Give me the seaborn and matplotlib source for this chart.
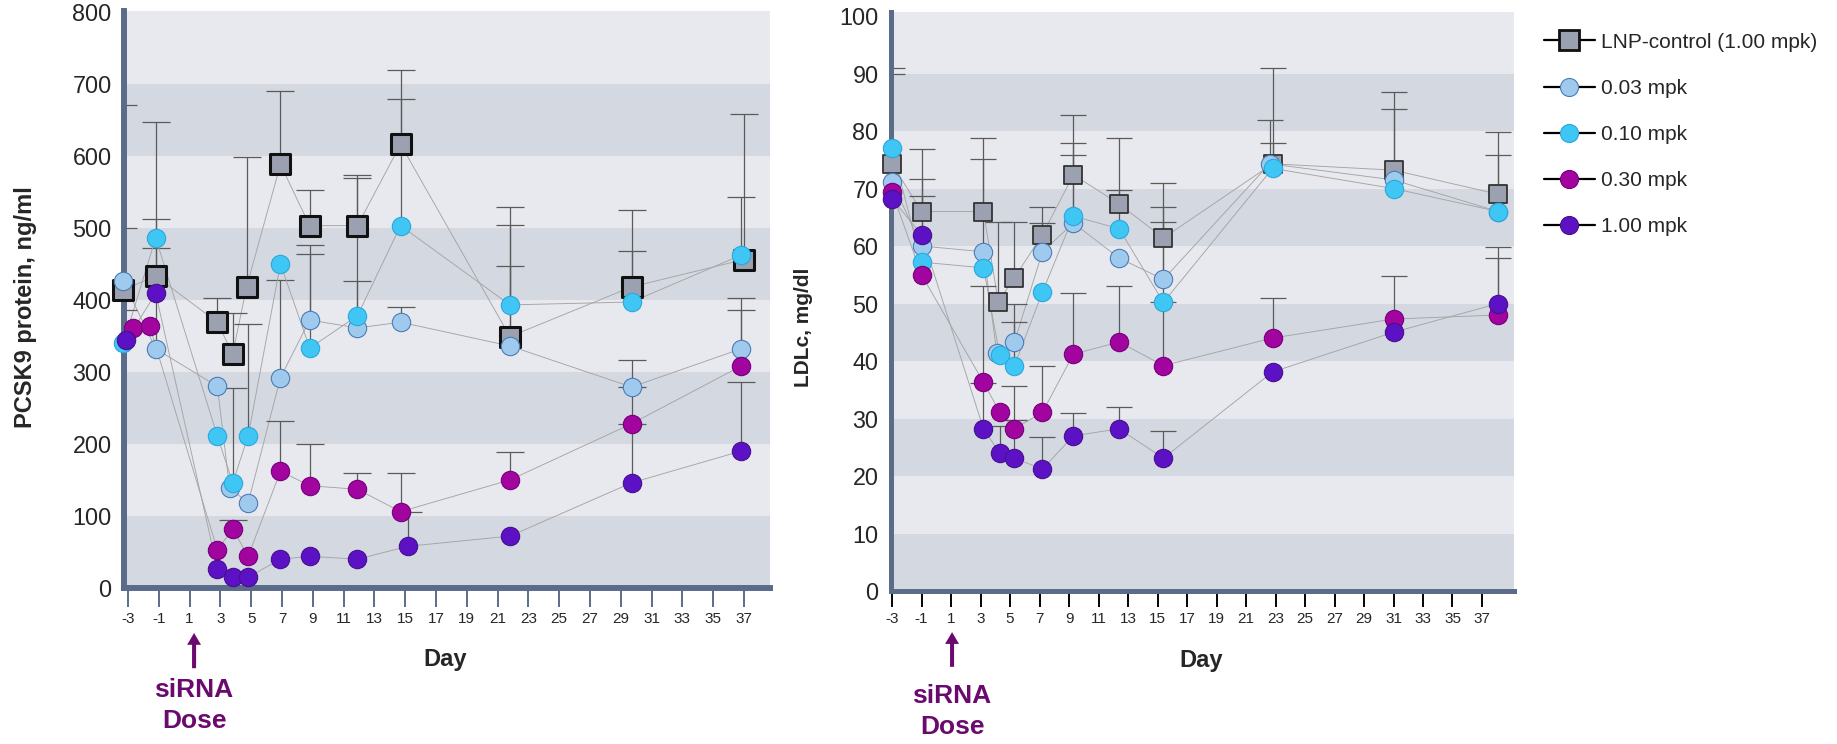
import numpy as np
import pandas as pd
import matplotlib
matplotlib.use('Agg')
import matplotlib.pyplot as plt
import seaborn as sns
from matplotlib.lines import Line2D

# --- datos ---
GROUPS = ['LNP-control (1.00 mpk)', '0.03 mpk', '0.10 mpk', '0.30 mpk', '1.00 mpk']

# PCSK9 (ng/ml), panel izquierdo
pcsk9_lnp_day = [-3.3, -1.2, 2.8, 3.8, 4.7, 6.9, 8.8, 11.9, 14.7, 21.8, 29.7, 37.0]
pcsk9_lnp_val = [414, 433, 369, 325, 418, 588, 503, 503, 616, 349, 418, 456]
pcsk9_lnp_err = [257, 214, 34, 57, 180, 102, 50, 70, 103, 180, 107, 202]

pcsk9_003_day = [-3.3, -1.2, 2.8, 3.6, 4.8, 6.9, 8.8, 11.9, 14.7, 21.8, 29.7, 36.8]
pcsk9_003_val = [426, 332, 280, 139, 118, 292, 372, 361, 369, 336, 279, 332]
pcsk9_003_err = [74, 140, 0, 0, 0, 135, 104, 65, 21, 111, 38, 71]

pcsk9_010_day = [-3.3, -1.2, 2.8, 3.8, 4.8, 6.9, 8.8, 11.9, 14.7, 21.8, 29.7, 36.8]
pcsk9_010_val = [340, 486, 211, 146, 211, 450, 333, 378, 503, 393, 397, 462]
pcsk9_010_err = [46, 26, 0, 132, 156, 0, 131, 191, 176, 111, 71, 81]

pcsk9_030_day = [-2.7, -1.6, 2.8, 3.8, 4.8, 6.9, 8.8, 11.9, 14.7, 21.8, 29.7, 36.8]
pcsk9_030_val = [361, 364, 53, 82, 44, 162, 142, 137, 106, 150, 228, 308]
pcsk9_030_err = [0, 0, 0, 12, 0, 70, 58, 23, 54, 39, 51, 78]

pcsk9_100_day = [-3.1, -1.2, 2.8, 3.8, 4.8, 6.9, 8.8, 11.9, 15.2, 21.8, 29.7, 36.8]
pcsk9_100_val = [344, 409, 27, 15, 15, 40, 44, 40, 58, 72, 146, 190]
pcsk9_100_err = [0, 0, 0, 0, 0, 0, 0, 0, 48, 0, 82, 96]

# LDLc (mg/dl), panel derecho
ldl_lnp_day = [-3.0, -1.0, 3.2, 4.2, 5.3, 7.2, 9.3, 12.4, 15.4, 22.8, 31.0, 38.1]
ldl_lnp_val = [74.3, 66, 66, 50.3, 54.5, 62, 72.4, 67.3, 61.4, 74.3, 73.2, 69]
ldl_lnp_err = [16.6, 10.9, 12.8, 13.9, 9.7, 4.8, 10.4, 11.5, 9.6, 16.7, 13.6, 10.8]

ldl_003_day = [-3.0, -1.0, 3.2, 4.1, 5.3, 7.2, 9.3, 12.4, 15.4, 22.6, 31.0, 38.1]
ldl_003_val = [71.2, 60, 59, 41.4, 43.3, 59, 64, 57.9, 54.2, 74.3, 71.5, 66]
ldl_003_err = [0, 11.7, 16.1, 0, 6.7, 5, 11.8, 0, 12.6, 7.7, 12.4, 9.8]

ldl_010_day = [-3.0, -1.0, 3.2, 4.3, 5.3, 7.2, 9.3, 12.4, 15.4, 22.8, 31.0, 38.1]
ldl_010_val = [77, 57.2, 56.2, 41, 39.2, 52, 65.2, 63, 50.2, 73.5, 70, 66]
ldl_010_err = [13, 11.5, 0, 0, 7.5, 0, 12.7, 6.7, 14, 4.4, 0, 0]

ldl_030_day = [-3.0, -1.0, 3.2, 4.3, 5.3, 7.2, 9.3, 12.4, 15.4, 22.8, 31.0, 38.1]
ldl_030_val = [69.4, 55, 36.3, 31.1, 28.2, 31.1, 41.2, 43.3, 39.2, 44, 47.3, 48]
ldl_030_err = [0, 0, 16.7, 0, 7.5, 8, 10.6, 9.7, 11, 7, 7.5, 9.9]

ldl_100_day = [-3.0, -1.0, 3.2, 4.3, 5.3, 7.2, 9.3, 12.4, 15.4, 22.8, 31.0, 38.1]
ldl_100_val = [68.2, 62, 28.2, 24, 23.1, 21.2, 27, 28.2, 23.1, 38.1, 45, 50]
ldl_100_err = [0, 0, 8, 4.7, 6.6, 5.6, 4, 3.8, 4.7, 0, 0, 9.8]

X_TICKS = list(range(-3, 38, 2))
PCSK9_TICKS = list(range(0, 801, 100))
LDL_TICKS = list(range(0, 101, 10))

# --- estilo ---
FACE = {GROUPS[0]: '#9ba1b0', GROUPS[1]: '#9fcaee', GROUPS[2]: '#3fc6f4',
        GROUPS[3]: '#a2049f', GROUPS[4]: '#5c12c4'}
EDGE = {GROUPS[0]: '#111111', GROUPS[1]: '#4a7cb4', GROUPS[2]: '#2aa8dc',
        GROUPS[3]: '#76007a', GROUPS[4]: '#46108e'}
MARK = {GROUPS[0]: 's', GROUPS[1]: 'o', GROUPS[2]: 'o', GROUPS[3]: 'o', GROUPS[4]: 'o'}
BAND_DARK = '#d4d8e1'
BAND_LIGHT = '#e8e9ee'
SPINE = '#5b6b8a'
DOSE = '#6b0a6e'


def frame(days, vals, errs):
    parts = []
    for g, d, v, e in zip(GROUPS, days, vals, errs):
        parts.append(pd.DataFrame({'Day': d, 'Value': v, 'Err': e, 'Group': g}))
    return pd.concat(parts, ignore_index=True)


df_pcsk9 = frame([pcsk9_lnp_day, pcsk9_003_day, pcsk9_010_day, pcsk9_030_day, pcsk9_100_day],
                 [pcsk9_lnp_val, pcsk9_003_val, pcsk9_010_val, pcsk9_030_val, pcsk9_100_val],
                 [pcsk9_lnp_err, pcsk9_003_err, pcsk9_010_err, pcsk9_030_err, pcsk9_100_err])
df_ldl = frame([ldl_lnp_day, ldl_003_day, ldl_010_day, ldl_030_day, ldl_100_day],
               [ldl_lnp_val, ldl_003_val, ldl_010_val, ldl_030_val, ldl_100_val],
               [ldl_lnp_err, ldl_003_err, ldl_010_err, ldl_030_err, ldl_100_err])

sns.set_style('white')
plt.rcParams['font.family'] = ['Liberation Sans', 'DejaVu Sans']
plt.rcParams['axes.unicode_minus'] = False

fig = plt.figure(figsize=(18.37, 7.44), dpi=100)
ax1 = fig.add_axes([124 / 1837, 1 - 588 / 744, 646 / 1837, 577 / 744])
ax2 = fig.add_axes([891 / 1837, 1 - 591 / 744, 623 / 1837, 579 / 744])


def panel(ax, df, yticks, step, sq_size, sq_lw, capsize, ecol_sq):
    # bandas horizontales alternas
    ax.set_facecolor(BAND_LIGHT)
    for i, y0 in enumerate(yticks[:-1]):
        if i % 2 == 0:
            ax.axhspan(y0, y0 + step, color=BAND_DARK, zorder=0, lw=0)

    for k, g in enumerate(GROUPS):
        sub = df[df['Group'] == g]
        sns.lineplot(data=sub, x='Day', y='Value', ax=ax, color='#a4a4a4', lw=0.65,
                     sort=False, estimator=None, legend=False, zorder=2)
        eb = sub[sub['Err'] > 0]
        _, caps, _ = ax.errorbar(eb['Day'], eb['Value'], yerr=[np.zeros(len(eb)), eb['Err']],
                                 fmt='none', ecolor='#5a5a5a', elinewidth=0.9, capsize=capsize,
                                 capthick=0.9, zorder=2)
        # solo la tapa superior
        for c in caps:
            if np.allclose(c.get_ydata(), eb['Value'].values):
                c.set_visible(False)
        if k == 0:
            sns.scatterplot(data=sub, x='Day', y='Value', ax=ax, marker='s', s=sq_size,
                            color=FACE[g], edgecolor=ecol_sq, linewidth=sq_lw,
                            legend=False, zorder=4, clip_on=False)
        else:
            sns.scatterplot(data=sub, x='Day', y='Value', ax=ax, marker='o', s=175,
                            color=FACE[g], edgecolor=EDGE[g], linewidth=0.8,
                            legend=False, zorder=4 + k, clip_on=False)

    for s in ['top', 'right']:
        ax.spines[s].set_visible(False)
    ax.set_yticks(yticks)
    ax.set_xticks(X_TICKS)
    ax.set_xlabel('Day', fontsize=17, fontweight='bold')
    ax.grid(False)


panel(ax1, df_pcsk9, PCSK9_TICKS, 100, 190, 2.2, 10, '#111111')
panel(ax2, df_ldl, LDL_TICKS, 10, 160, 1.3, 9.5, '#333333')

ax1.set_xlim(-3.26, 38.69)
ax1.set_ylim(0, 801)
ax2.set_xlim(-3.07, 39.17)
ax2.set_ylim(0, 100.7)

for ax, lw, tcol, tlen in [(ax1, 4.3, SPINE, 13.5), (ax2, 3.6, 'black', 11.5)]:
    for s in ['left', 'bottom']:
        ax.spines[s].set_color(SPINE)
        ax.spines[s].set_linewidth(lw)
        ax.spines[s].set_zorder(3)
    ax.tick_params(axis='y', length=0, pad=9, labelsize=16.8)
    ax.tick_params(axis='x', length=tlen, width=1.4, color=tcol, pad=3.6,
                   labelsize=11, direction='out', bottom=True)

ax1.set_ylabel('PCSK9 protein, ng/ml', fontsize=17, fontweight='bold')
ax2.set_ylabel('LDLc, mg/dl', fontsize=15, fontweight='bold')
ax1.yaxis.set_label_coords(-0.1347, 0.487)
ax2.yaxis.set_label_coords(-0.125, 0.456)
ax1.xaxis.set_label_coords(0.497, -0.104)
ax2.xaxis.set_label_coords(0.4976, -0.100)

# flechas "siRNA Dose"
for ax, xd, tip, tail, ty in [(ax1, 1.29, -0.078, -0.139, -0.203), (ax2, 1.07, -0.071, -0.131, -0.2085)]:
    tr = ax.get_xaxis_transform()
    ax.annotate('', xy=(xd, tip), xytext=(xd, tail), xycoords=tr, textcoords=tr,
                arrowprops=dict(width=2.9, headwidth=10, headlength=8.5, color=DOSE, lw=0),
                annotation_clip=False)
    ax.text(xd, ty, 'siRNA\nDose', transform=tr, ha='center', va='center', fontsize=19,
            fontweight='bold', color=DOSE, linespacing=1.38, clip_on=False)

# leyenda
handles = []
for g in GROUPS:
    if MARK[g] == 's':
        handles.append(Line2D([], [], color='black', lw=1.6, marker='s', markersize=14,
                              markerfacecolor=FACE[g], markeredgecolor='#111111', markeredgewidth=2))
    else:
        handles.append(Line2D([], [], color='black', lw=1.6, marker='o', markersize=13,
                              markerfacecolor=FACE[g], markeredgecolor=EDGE[g], markeredgewidth=0.8))
fig.legend(handles, GROUPS, loc='upper left', bbox_to_anchor=(1525 / 1837, 1 - 14 / 744),
           frameon=False, fontsize=15, handlelength=2.45, handletextpad=0.3, labelspacing=1.3)

fig.savefig('out.png', dpi=100)
